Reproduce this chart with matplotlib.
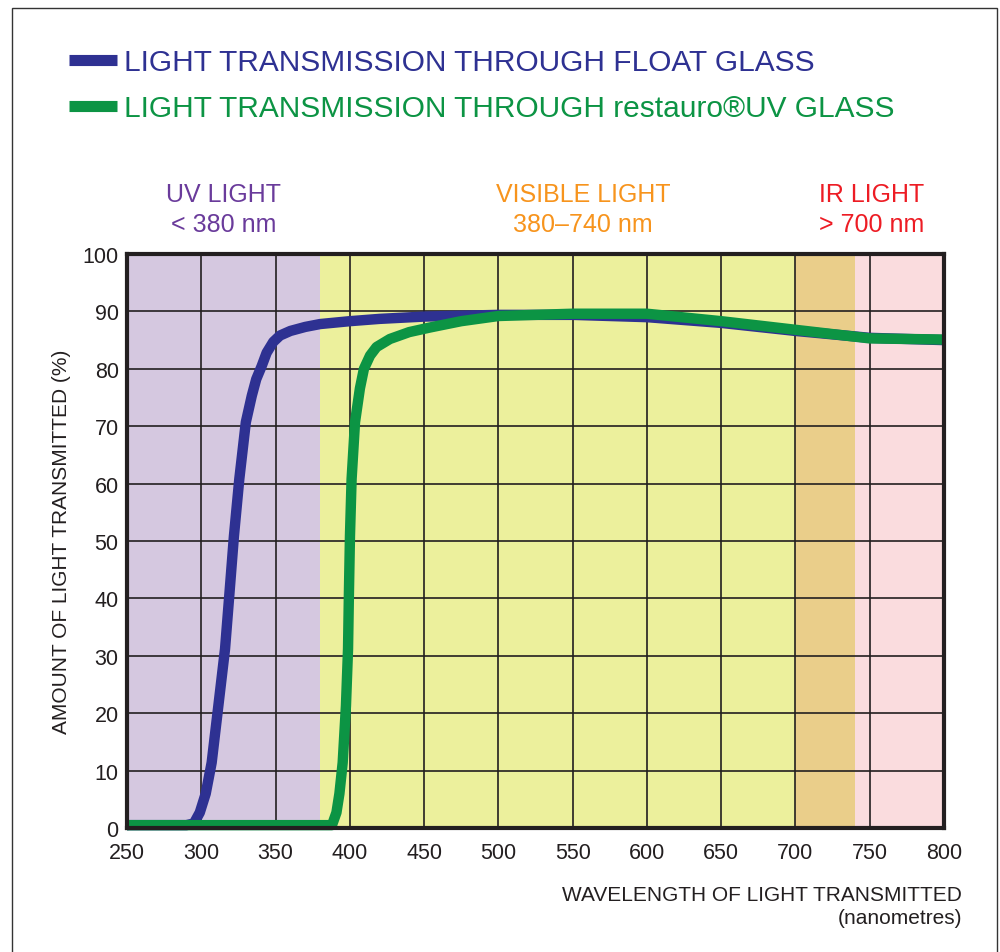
import matplotlib.pyplot as plt
from matplotlib.patches import Rectangle

# transmission curves (wavelength nm, % transmitted)
float_nm = [250, 290, 295, 299, 303, 307, 311.5, 316, 319, 322, 325.6, 330, 334, 337,
            340.7, 344, 348.5, 353, 360, 370, 380, 400, 420, 450, 500, 550, 600, 650,
            700, 750, 800]
float_pct = [0.5, 0.5, 0.8, 2.7, 6, 11.4, 21.3, 31.2, 41, 50.9, 60.8, 70.7, 75.3, 78.2,
             80.5, 82.8, 84.7, 85.8, 86.6, 87.3, 87.8, 88.3, 88.7, 89.1, 89.4, 89.4, 89.0,
             88.0, 86.6, 85.4, 85.0]

uv_nm = [250, 388, 391, 393, 395.2, 397.4, 398.8, 399.4, 400.1, 401.2, 403.5, 406.8,
         409.5, 413.6, 418, 427, 440, 454, 475, 500, 550, 600, 650, 700, 750, 800]
uv_pct = [0.5, 0.5, 2.7, 6, 11.4, 21.3, 31.2, 41, 50.9, 60.8, 70.7, 76.6,
          80.0, 82.3, 83.8, 85.2, 86.4, 87.2, 88.3, 89.2, 89.6, 89.6, 88.3, 86.8, 85.3, 85.1]

series_labels = ['LIGHT TRANSMISSION THROUGH FLOAT GLASS',
                 'LIGHT TRANSMISSION THROUGH restauro\u00aeUV GLASS']

# spectrum bands
band_edges = [(250, 380), (380, 700), (700, 740), (740, 800)]
band_colors = ['#d5c8e0', '#ecf09c', '#eace8a', '#fadcde']

band_titles = ['UV LIGHT', 'VISIBLE LIGHT', 'IR LIGHT']
band_ranges = ['< 380 nm', '380\u2013740 nm', '> 700 nm']
band_label_x = [315, 557, 751]
band_text_colors = ['#6a3b9b', '#f7941d', '#ed1c24']

xticks = list(range(250, 801, 50))
yticks = list(range(0, 101, 10))

blue = '#2e3192'
green = '#0c9444'
dark = '#231f20'

plt.rcParams['font.family'] = ['Liberation Sans', 'DejaVu Sans']

fig = plt.figure(figsize=(10, 9.53), dpi=100)
ax = fig.add_axes([0.127, 0.1301, 0.817, 0.6023])

for (x0, x1), c in zip(band_edges, band_colors):
    ax.axvspan(x0, x1, color=c, lw=0, zorder=0.1)

ax.plot(float_nm, float_pct, color=blue, lw=7.5, solid_joinstyle='round',
        solid_capstyle='butt', clip_on=False, zorder=2, label=series_labels[0])
ax.plot(uv_nm, uv_pct, color=green, lw=7.5, solid_joinstyle='round',
        solid_capstyle='butt', clip_on=False, zorder=2.1, label=series_labels[1])

ax.set_xlim(250, 800)
ax.set_ylim(0, 100)
ax.set_xticks(xticks)
ax.set_yticks(yticks)
ax.set_axisbelow(True)
ax.grid(True, color=dark, lw=1.2)
ax.tick_params(length=0, labelsize=15.5, colors=dark, pad=6)
ax.tick_params(axis='x', pad=10)
for s in ax.spines.values():
    s.set_linewidth(3)
    s.set_color(dark)
    s.set_zorder(3)

# band headings above the plot
for title, rng, xp, col in zip(band_titles, band_ranges, band_label_x, band_text_colors):
    ax.text(xp, 110.5, title, color=col, fontsize=18, ha='center', va='center', clip_on=False)
    ax.text(xp, 105.2, rng, color=col, fontsize=18, ha='center', va='center', clip_on=False)

ax.set_xlabel('WAVELENGTH OF LIGHT TRANSMITTED\n(nanometres)', fontsize=15,
              color=dark, ha='right', multialignment='right', va='top', linespacing=1.3)
ax.xaxis.set_label_coords(1.022, -0.099)
ax.set_ylabel('AMOUNT OF LIGHT TRANSMITTED (%)', fontsize=15, color=dark)
ax.yaxis.set_label_coords(-0.068, 0.5)

leg = fig.legend(loc='upper left', bbox_to_anchor=(0.057, 0.961), frameon=False,
                 fontsize=21.5, handlelength=1.62, handletextpad=0.22, labelspacing=0.6,
                 labelcolor='linecolor', borderaxespad=0)
for h in leg.legend_handles:
    h.set_linewidth(8)

# outer frame
fig.add_artist(Rectangle((0.012, -0.01), 0.985, 1.0006, transform=fig.transFigure,
                         fill=False, ec='#333333', lw=1))

fig.savefig('out.png', dpi=100)
